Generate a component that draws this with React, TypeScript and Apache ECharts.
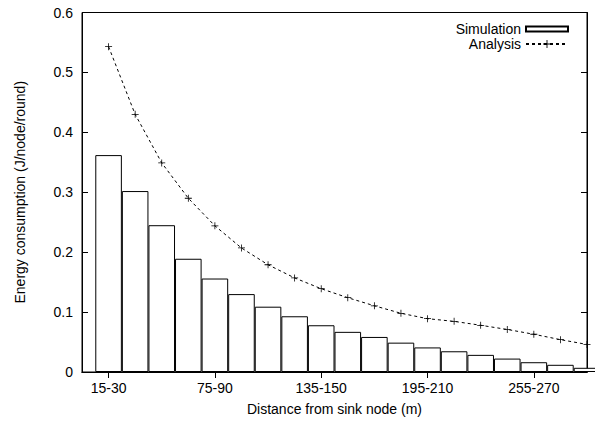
import React, { useEffect, useRef } from "react";
import * as echarts from "echarts";

const categories: string[] = [
  "15-30", "30-45", "45-60", "60-75", "75-90", "90-105", "105-120", "120-135",
  "135-150", "150-165", "165-180", "180-195", "195-210", "210-225", "225-240",
  "240-255", "255-270", "270-285", "285-300",
];

const simulation: number[] = [
  0.362, 0.302, 0.245, 0.189, 0.156, 0.130, 0.109, 0.093, 0.078, 0.067,
  0.0585, 0.049, 0.041, 0.0346, 0.0286, 0.0224, 0.0163, 0.012, 0.007,
];

const analysis: number[] = [
  0.543, 0.430, 0.349, 0.290, 0.244, 0.207, 0.179, 0.157, 0.139, 0.124,
  0.1105, 0.098, 0.089, 0.0845, 0.078, 0.071, 0.063, 0.054, 0.046,
];

const yTicks: number[] = [0, 0.1, 0.2, 0.3, 0.4, 0.5, 0.6];

const FONT = "'Liberation Sans', Arial, Helvetica, sans-serif";
const PLUS = "path://M4,0h1v9h-1z M0,4h9v1h-9z";

export default function App() {
  const ref = useRef<HTMLDivElement>(null);

  useEffect(() => {
    if (!ref.current) return;
    const chart = echarts.init(ref.current, undefined, { renderer: "svg" });
    const xData = ["", ...categories];
    const simData = ["-", ...simulation];
    const anaData = ["-", ...analysis];
    const showIdx = (i: number) => i % 4 === 1;
    const text = { fontFamily: FONT, fontSize: 14, color: "#000" };
    const legendText = { ...text, lineHeight: 13 };

    chart.setOption({
      animation: false,
      backgroundColor: "#fff",
      textStyle: { fontFamily: FONT },
      grid: {
        left: 82,
        right: 8,
        top: 12.5,
        bottom: 47.5,
        show: true,
        borderColor: "#000",
        borderWidth: 1,
        backgroundColor: "transparent",
      },
      legend: [
        {
          data: [{ name: "Simulation", icon: "rect" }],
          orient: "vertical",
          align: "right",
          right: 26,
          top: 22,
          padding: 0,
          itemWidth: 42,
          itemHeight: 5,
          textStyle: legendText,
          selectedMode: false,
        },
        {
          data: ["Analysis"],
          orient: "vertical",
          align: "right",
          right: 26,
          top: 37,
          padding: 0,
          itemWidth: 42,
          itemHeight: 10,
          textStyle: legendText,
          selectedMode: false,
        },
      ],
      xAxis: [
        {
          type: "category",
          data: xData,
          boundaryGap: false,
          position: "bottom",
          name: "Distance from sink node (m)",
          nameLocation: "middle",
          nameGap: 30,
          nameTextStyle: text,
          axisLine: { show: true, lineStyle: { color: "#000", width: 1 } },
          axisTick: {
            show: true,
            inside: true,
            length: 6,
            interval: (i: number) => showIdx(i),
            lineStyle: { color: "#000" },
          },
          axisLabel: {
            show: true,
            interval: (i: number) => showIdx(i),
            margin: 9,
            ...text,
          },
          splitLine: { show: false },
        },
        {
          type: "category",
          data: xData,
          boundaryGap: false,
          position: "top",
          axisLine: { show: true, lineStyle: { color: "#000", width: 1 } },
          axisTick: {
            show: true,
            inside: true,
            length: 6,
            interval: (i: number) => showIdx(i),
            lineStyle: { color: "#000" },
          },
          axisLabel: { show: false },
          splitLine: { show: false },
        },
      ],
      yAxis: [
        {
          type: "value",
          min: yTicks[0],
          max: yTicks[yTicks.length - 1],
          interval: 0.1,
          position: "left",
          name: "Energy consumption (J/node/round)",
          nameLocation: "middle",
          nameGap: 55,
          nameTextStyle: text,
          axisLine: { show: true, lineStyle: { color: "#000", width: 1 } },
          axisTick: { show: true, inside: true, length: 6, lineStyle: { color: "#000" } },
          axisLabel: { margin: 9, ...text, formatter: (v: number) => String(+v.toFixed(1)) },
          splitLine: { show: false },
        },
        {
          type: "value",
          min: yTicks[0],
          max: yTicks[yTicks.length - 1],
          interval: 0.1,
          position: "right",
          axisLine: { show: true, lineStyle: { color: "#000", width: 1 } },
          axisTick: { show: true, inside: true, length: 6, lineStyle: { color: "#000" } },
          axisLabel: { show: false },
          splitLine: { show: false },
        },
      ],
      series: [
        {
          name: "Simulation",
          type: "bar",
          data: simData,
          xAxisIndex: 0,
          yAxisIndex: 0,
          barWidth: "100%",
          barGap: "0%",
          clip: true,
          itemStyle: { color: "#fff", borderColor: "#000", borderWidth: 1 },
          emphasis: { disabled: true },
        },
        {
          name: "Analysis",
          type: "line",
          data: anaData,
          xAxisIndex: 0,
          yAxisIndex: 0,
          symbol: PLUS,
          symbolSize: 7,
          showAllSymbol: true,
          connectNulls: true,
          clip: false,
          lineStyle: { color: "#000", width: 1, type: [3, 3] },
          itemStyle: { color: "#000" },
          emphasis: { disabled: true },
          z: 3,
        },
      ],
    });

    return () => chart.dispose();
  }, []);

  return (
    <div
      ref={ref}
      style={{ position: "fixed", left: 0, top: 0, width: 595, height: 421, background: "#fff" }}
    />
  );
}
